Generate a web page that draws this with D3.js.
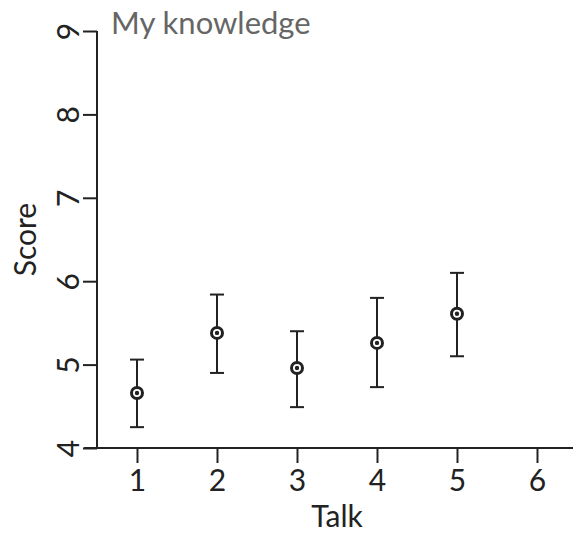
<!DOCTYPE html>
<html>
<head>
<meta charset="utf-8">
<script src="https://cdn.jsdelivr.net/npm/d3@7"></script>
<style>
  body { margin: 0; background: #fff; }
  svg text { font-family: Lato, "Open Sans", sans-serif; }
</style>
</head>
<body>
<div id="chart"></div>
<script>
const talks = [1, 2, 3, 4, 5];
const means = [4.66, 5.38, 4.96, 5.26, 5.61];
const upper = [5.06, 5.84, 5.40, 5.80, 6.10];
const lower = [4.25, 4.90, 4.49, 4.73, 5.10];
const xTicks = [1, 2, 3, 4, 5, 6];
const yTicks = [4, 5, 6, 7, 8, 9];

const width = 573, height = 538;
const ink = '#222';

const svg = d3.select('#chart').append('svg')
  .attr('width', width)
  .attr('height', height);

const x = d3.scaleLinear().domain([0.5, 6.45]).range([97, 573]);
const y = d3.scaleLinear().domain([4, 9]).range([448, 31]);

// x axis
const xAxis = svg.append('g')
  .attr('transform', 'translate(0,448)')
  .call(d3.axisBottom(x).tickValues(xTicks).tickFormat(d3.format('d')).tickSize(15).tickSizeOuter(0));
xAxis.select('.domain').attr('d', 'M84,0H573');

// y axis
const yAxis = svg.append('g')
  .attr('transform', 'translate(97,0)')
  .call(d3.axisLeft(y).tickValues(yTicks).tickFormat(d3.format('d')).tickSize(14).tickSizeOuter(0));
yAxis.select('.domain').attr('d', 'M0,' + y(9) + 'V' + y(4));

svg.selectAll('.domain').attr('stroke', ink).attr('stroke-width', 2);
svg.selectAll('.tick line').attr('stroke', ink).attr('stroke-width', 2);
svg.selectAll('.tick text').attr('fill', ink).style('font-size', '30px');

xAxis.selectAll('.tick text').attr('y', 22);
yAxis.selectAll('.tick text')
  .attr('x', null).attr('y', null)
  .attr('text-anchor', 'middle')
  .attr('dy', '0.35em')
  .attr('transform', 'translate(-29,0) rotate(-90)');

// axis titles
svg.append('text')
  .attr('x', x(3.5))
  .attr('y', 527)
  .attr('text-anchor', 'middle')
  .attr('fill', ink)
  .style('font-size', '30px')
  .text('Talk');

svg.append('text')
  .attr('transform', 'translate(25,' + y(6.5) + ') rotate(-90)')
  .attr('text-anchor', 'middle')
  .attr('dy', '0.35em')
  .attr('fill', ink)
  .style('font-size', '30px')
  .text('Score');

// panel title
svg.append('text')
  .attr('x', 111)
  .attr('y', 34)
  .attr('fill', '#666')
  .style('font-size', '31px')
  .text('My knowledge');

// error bars
const rows = talks.map((t, i) => ({ t: t, m: means[i], hi: upper[i], lo: lower[i] }));
const bars = svg.append('g').selectAll('g').data(rows).enter().append('g');

bars.append('line')
  .attr('x1', d => x(d.t)).attr('x2', d => x(d.t))
  .attr('y1', d => y(d.hi)).attr('y2', d => y(d.lo))
  .attr('stroke', ink).attr('stroke-width', 2);
bars.append('line')
  .attr('x1', d => x(d.t) - 7).attr('x2', d => x(d.t) + 7)
  .attr('y1', d => y(d.hi)).attr('y2', d => y(d.hi))
  .attr('stroke', ink).attr('stroke-width', 2);
bars.append('line')
  .attr('x1', d => x(d.t) - 7).attr('x2', d => x(d.t) + 7)
  .attr('y1', d => y(d.lo)).attr('y2', d => y(d.lo))
  .attr('stroke', ink).attr('stroke-width', 2);

bars.append('circle')
  .attr('cx', d => x(d.t)).attr('cy', d => y(d.m))
  .attr('r', 5.5)
  .attr('fill', '#fff')
  .attr('stroke', ink).attr('stroke-width', 3);
bars.append('circle')
  .attr('cx', d => x(d.t)).attr('cy', d => y(d.m))
  .attr('r', 2.2)
  .attr('fill', ink);
</script>
</body>
</html>
